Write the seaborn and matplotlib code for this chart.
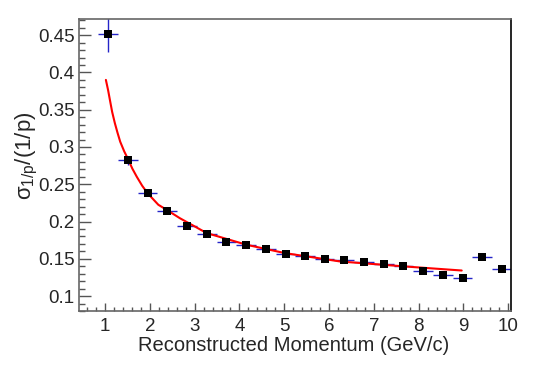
import numpy as np
import pandas as pd
import matplotlib
matplotlib.use("Agg")
import matplotlib.pyplot as plt
from matplotlib.ticker import MultipleLocator
import seaborn as sns

# measured resolution per momentum bin
momentum = [1.07, 1.51, 1.95, 2.39, 2.83, 3.27, 3.71, 4.15, 4.59, 5.03, 5.47,
            5.90, 6.34, 6.78, 7.22, 7.66, 8.10, 8.54, 8.98, 9.42, 9.86]
resolution = [0.451, 0.282, 0.238, 0.214, 0.194, 0.1835, 0.172, 0.169, 0.1634,
              0.1567, 0.154, 0.150, 0.149, 0.146, 0.1433, 0.1397, 0.1335,
              0.1286, 0.1236, 0.1523, 0.1366]
res_err = [0.024, 0.006, 0.004, 0.003, 0.003, 0.003, 0.003, 0.003, 0.003,
           0.003, 0.003, 0.003, 0.003, 0.003, 0.003, 0.003, 0.003, 0.003,
           0.003, 0.003, 0.003]
bin_half = [0.22] * len(momentum)

# fit curve
fit_p = [1.02, 1.07, 1.11, 1.16, 1.22, 1.28, 1.34, 1.43, 1.52, 1.61, 1.71,
         1.83, 1.95, 2.19, 2.40, 2.67, 3.27, 4.16, 5.02, 6.25, 7.70, 8.96]
fit_sigma = [0.390, 0.376, 0.363, 0.347, 0.332, 0.319, 0.307, 0.294, 0.283,
             0.271, 0.260, 0.248, 0.238, 0.2225, 0.2148, 0.2045, 0.1845,
             0.1688, 0.1576, 0.1464, 0.1397, 0.1343]

df = pd.DataFrame({"p": momentum, "sigma": resolution})
fit = pd.DataFrame({"p": fit_p, "sigma": fit_sigma})

sns.set_theme(style="ticks")
plt.rcParams["font.family"] = ["Liberation Sans", "DejaVu Sans"]
plt.rcParams["mathtext.fontset"] = "custom"
plt.rcParams["mathtext.rm"] = "Liberation Sans"
plt.rcParams["mathtext.it"] = "Liberation Sans"

fig = plt.figure(figsize=(5.4, 3.66), dpi=100)
ax = fig.add_axes([0.1463, 0.1503, 0.80, 0.7970])

ax.errorbar(momentum, resolution, xerr=bin_half, yerr=res_err, fmt="none",
            ecolor="#2525c8", elinewidth=1.0, capsize=0, zorder=2)
sns.lineplot(data=fit, x="p", y="sigma", sort=False, estimator=None,
             color="red", linewidth=1.5, ax=ax, zorder=3)
sns.scatterplot(data=df, x="p", y="sigma", marker="s", s=30, color="black",
                edgecolor="black", linewidth=0, ax=ax, zorder=4)

ax.set_xlim(0.42, 10.06)
ax.set_ylim(0.08, 0.4713)
ax.xaxis.set_major_locator(MultipleLocator(1))
ax.xaxis.set_minor_locator(MultipleLocator(0.2))
ax.yaxis.set_minor_locator(MultipleLocator(0.01))
ax.set_yticks(np.arange(0.1, 0.46, 0.05))
ax.set_yticklabels(["0.1", "0.15", "0.2", "0.25", "0.3", "0.35", "0.4", "0.45"])

ax.tick_params(axis="y", which="major", direction="in", length=8.4, width=1,
               color="#555555", labelsize=13.5, pad=3)
ax.tick_params(axis="y", which="minor", direction="in", length=4.3, width=1,
               color="#555555")
ax.tick_params(axis="x", which="major", direction="in", length=5.8, width=1,
               color="#555555", labelsize=13.5, pad=5)
ax.tick_params(axis="x", which="minor", direction="in", length=2.9, width=1,
               color="#555555")

for side in ["left", "bottom", "top"]:
    ax.spines[side].set_color("#666666")
    ax.spines[side].set_linewidth(1.2)
ax.spines["right"].set_color("black")
ax.spines["right"].set_linewidth(1.2)

ax.set_xlabel("Reconstructed Momentum (GeV/c)", fontsize=14.5)
ax.xaxis.set_label_coords(0.856, -0.085, transform=ax.transAxes)
ax.xaxis.label.set_ha("right")

ax.set_ylabel(r"$\sigma_{1/p}$/(1/p)", fontsize=16)
ax.yaxis.set_label_coords(-0.09, 0.685, transform=ax.transAxes)
ax.yaxis.label.set_ha("right")

fig.savefig("out.png", dpi=100)
